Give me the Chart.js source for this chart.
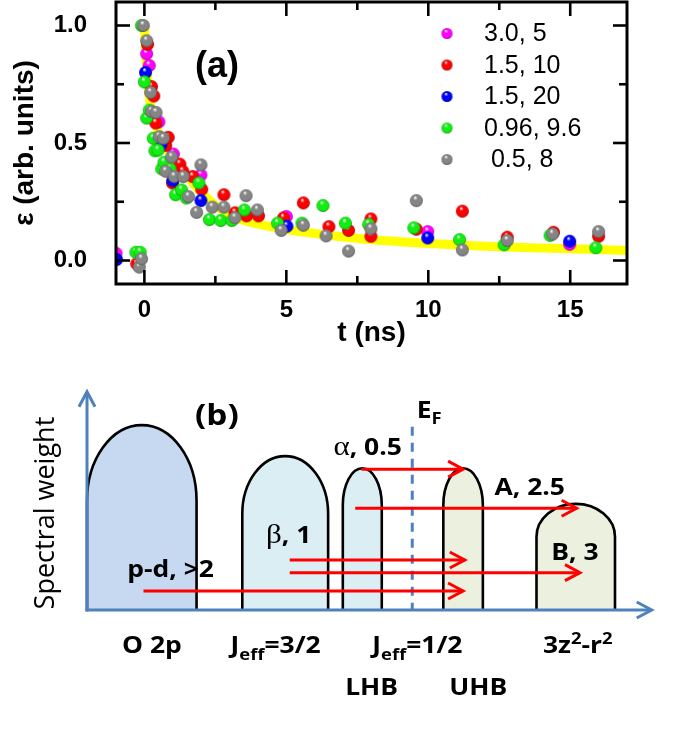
<!DOCTYPE html>
<html>
<head>
<meta charset="utf-8">
<script src="https://cdn.jsdelivr.net/npm/chart.js@4.4.0/dist/chart.umd.min.js"></script>
<style>
  html, body { margin: 0; padding: 0; background: #fff; }
  #wrap { position: relative; width: 685px; height: 735px; }
  #chartA { position: absolute; left: 0; top: 0; }
  #chartB { position: absolute; left: 0; top: 355px; }
</style>
</head>
<body>
<div id="wrap">
  <canvas id="chartA" width="685" height="355"></canvas>
  <canvas id="chartB" width="685" height="380"></canvas>
</div>
<script>
// ---- panel (a): data ----
const xTicks = [0, 5, 10, 15];
const xMinorTicks = [2.5, 7.5, 12.5];
const yTicks = [0, 0.5, 1.0];
const yMinorTicks = [0.25, 0.75];

const seriesLabels = ['3.0, 5', '1.5, 10', '1.5, 20', '0.96, 9.6', ' 0.5, 8'];

const magentaT = [-1.0, 0.08, 0.17, 0.51, 1.02, 1.99, 5.0, 9.98, 14.98];
const magentaE = [0.031, 0.88, 0.83, 0.59, 0.453, 0.364, 0.187, 0.123, 0.069];

const redT = [-0.27, 0.11, 0.25, 0.33, 0.4, 0.75, 0.84, 0.99, 1.25, 1.35, 1.7, 2.02, 2.8, 3.19, 3.6, 4.02, 4.9, 5.6, 6.5, 7.19, 7.98, 7.98, 9.58, 11.2, 12.78, 14.41, 16.0];
const redE = [-0.014, 0.92, 0.74, 0.70, 0.585, 0.49, 0.524, 0.33, 0.41, 0.38, 0.357, 0.303, 0.28, 0.203, 0.19, 0.19, 0.181, 0.245, 0.144, 0.128, 0.177, 0.103, 0.133, 0.21, 0.099, 0.12, 0.103];

const blueT = [-0.98, 0.04, 0.58, 1.0, 1.99, 5.02, 9.98, 14.98];
const blueE = [0.004, 0.80, 0.493, 0.34, 0.255, 0.146, 0.096, 0.082];

const greenT = [-0.3, -0.15, -0.1, 0, 0.08, 0.17, 0.31, 0.37, 0.48, 0.61, 0.69, 0.9, 1.1, 1.31, 1.48, 1.92, 2.29, 2.69, 3.08, 3.52, 4.69, 5.55, 6.29, 7.08, 7.9, 9.49, 11.1, 12.67, 14.29, 15.9];
const greenE = [0.035, 0.035, 1.0, 0.76, 0.606, 0.64, 0.52, 0.467, 0.47, 0.39, 0.418, 0.39, 0.28, 0.30, 0.266, 0.33, 0.174, 0.17, 0.17, 0.215, 0.159, 0.159, 0.234, 0.159, 0.153, 0.139, 0.089, 0.067, 0.107, 0.054];

const grayT = [-0.18, -0.1, -0.04, 0.08, 0.22, 0.25, 0.41, 0.52, 0.67, 0.75, 0.96, 1.05, 1.37, 1.55, 1.84, 1.99, 2.39, 2.8, 3.19, 3.58, 3.98, 4.82, 5.6, 6.4, 7.19, 7.98, 9.58, 11.2, 12.78, 14.38, 16.0];
const grayE = [-0.028, 0.007, 1.0, 0.935, 0.715, 0.635, 0.63, 0.527, 0.52, 0.38, 0.44, 0.357, 0.357, 0.272, 0.205, 0.407, 0.227, 0.227, 0.182, 0.276, 0.215, 0.128, 0.15, 0.105, 0.04, 0.135, 0.255, 0.045, 0.085, 0.113, 0.123];

// yellow fit curve
const fitT = [0, 0.03, 0.08, 0.15, 0.25, 0.4, 0.6, 0.8, 1.0, 1.3, 1.6, 2.0, 2.5, 3.0, 3.5, 4.0, 5.0, 6.0, 7.0, 8.0, 9.0, 10.0, 12.0, 14.0, 17.0];
const fitE = [1.0, 0.93, 0.82, 0.72, 0.64, 0.575, 0.52, 0.475, 0.44, 0.39, 0.345, 0.29, 0.235, 0.195, 0.17, 0.155, 0.132, 0.115, 0.10, 0.088, 0.08, 0.072, 0.061, 0.053, 0.043];

// ---- panel (b): schematic band picture (energy units, spectral weight 0..1) ----
const bandLeft = [0, 2.75, 4.53, 6.31, 7.96];
const bandRight = [1.94, 4.27, 5.22, 7.01, 9.35];
const bandTop = [0.847, 0.705, 0.649, 0.649, 0.486];
const bandShoulder = [0.50, 0.44, 0.48, 0.48, 0.336];
const fermiLevel = 5.76;
const fermiTop = 0.84;

const transFrom = [4.86, 4.75, 3.59, 3.59, 1.0];
const transTo = [6.66, 8.67, 6.69, 8.73, 6.66];
const transLevel = [0.645, 0.466, 0.229, 0.171, 0.087];

// styles
const FONT_A = '"Liberation Sans", Arial, sans-serif';
const seriesColors = ['#ff00ff', '#ff0000', '#0000ff', '#11ee11', '#858585'];
const bandColors = ['#c6d9f1', '#dbeef4', '#dbeef4', '#ebf1de', '#ebf1de'];
const AXIS_BLUE = '#4f81bd';

function darken(hex, f) {
  const n = parseInt(hex.slice(1), 16);
  const r = Math.round(((n >> 16) & 255) * f), g = Math.round(((n >> 8) & 255) * f), b = Math.round((n & 255) * f);
  return `rgb(${r},${g},${b})`;
}

// shaded ball used as point style
function makeBall(color, r) {
  const c = document.createElement('canvas');
  const s = Math.ceil(r * 2 + 2);
  c.width = s; c.height = s;
  const g = c.getContext('2d');
  const cx = s / 2, cy = s / 2;
  const grad = g.createRadialGradient(cx - r * 0.2, cy - r * 0.5, r * 0.05, cx, cy, r);
  grad.addColorStop(0, '#ffffff');
  grad.addColorStop(0.3, color);
  grad.addColorStop(0.8, color);
  grad.addColorStop(1, darken(color, 0.65));
  g.fillStyle = grad;
  g.beginPath();
  g.arc(cx, cy, r, 0, Math.PI * 2);
  g.fill();
  return c;
}

const seriesT = [magentaT, redT, blueT, greenT, grayT];
const seriesE = [magentaE, redE, blueE, greenE, grayE];
const pointBalls = seriesColors.map(c => makeBall(c, 6.5));
const legendBalls = seriesColors.map(c => makeBall(c, 5.5));

const datasetsA = seriesLabels.map((label, i) => ({
  type: 'scatter',
  label: label,
  data: seriesT[i].map((t, k) => ({ x: t, y: seriesE[i][k] })),
  pointStyle: pointBalls[i],
  pointRadius: 6.5,
  order: 5 - i
}));
datasetsA.push({
  type: 'line',
  label: 'fit',
  data: fitT.map((t, k) => ({ x: t, y: fitE[k] })),
  borderColor: '#ffff00',
  borderWidth: 9,
  borderCapStyle: 'round',
  pointRadius: 0,
  cubicInterpolationMode: 'monotone',
  order: 10
});

function line(ctx, x1, y1, x2, y2) {
  ctx.beginPath();
  ctx.moveTo(x1, y1);
  ctx.lineTo(x2, y2);
  ctx.stroke();
}

// frame with inward ticks, "(a)" label and legend
const panelA = {
  id: 'panelA',
  afterDatasetsDraw(chart) {
    const { ctx, chartArea: a, scales: { x, y } } = chart;
    ctx.save();
    ctx.strokeStyle = '#000';
    ctx.lineWidth = 3;
    ctx.strokeRect(a.left, a.top, a.right - a.left, a.bottom - a.top);
    ctx.lineWidth = 2.6;
    const tx = (v, len) => {
      const p = x.getPixelForValue(v);
      line(ctx, p, a.bottom, p, a.bottom - len);
      line(ctx, p, a.top, p, a.top + len);
    };
    const ty = (v, len) => {
      const p = y.getPixelForValue(v);
      line(ctx, a.left, p, a.left + len, p);
      line(ctx, a.right, p, a.right - len, p);
    };
    xTicks.forEach(v => tx(v, 14));
    xMinorTicks.forEach(v => tx(v, 8));
    yTicks.forEach(v => ty(v, 14));
    yMinorTicks.forEach(v => ty(v, 8));

    ctx.fillStyle = '#000';
    ctx.font = 'bold 36px ' + FONT_A;
    ctx.textAlign = 'center';
    ctx.textBaseline = 'middle';
    ctx.fillText('(a)', x.getPixelForValue(2.56), y.getPixelForValue(0.824));

    // legend
    ctx.font = '25px ' + FONT_A;
    ctx.textAlign = 'left';
    seriesLabels.forEach((lab, i) => {
      const ry = a.top + 31.5 + i * 31.5;
      const b = legendBalls[i];
      ctx.drawImage(b, a.left + 331 - b.width / 2, ry - b.height / 2);
      ctx.fillText(lab, a.left + 368, ry + 1);
    });
    ctx.restore();
  }
};

new Chart(document.getElementById('chartA'), {
  type: 'scatter',
  data: { datasets: datasetsA },
  options: {
    responsive: false,
    animation: false,
    layout: { autoPadding: false, padding: { top: 2, right: 58, left: 0, bottom: 0 } },
    plugins: { legend: { display: false }, tooltip: { enabled: false } },
    scales: {
      x: {
        type: 'linear', min: -1, max: 17,
        grid: { display: false, drawTicks: false },
        border: { display: false },
        afterBuildTicks: s => { s.ticks = xTicks.map(v => ({ value: v })); },
        afterFit: s => { s.height = 71; s.paddingLeft = 0; s.paddingRight = 0; },
        ticks: {
          autoSkip: false, maxRotation: 0, padding: 12, color: '#000',
          font: { family: FONT_A, size: 24, weight: 'bold' },
          callback: v => String(v)
        },
        title: {
          display: true, text: 't (ns)', color: '#000',
          font: { family: FONT_A, size: 28, weight: 'bold' },
          padding: { top: 0, bottom: 5 }
        }
      },
      y: {
        type: 'linear', min: -0.1, max: 1.1,
        grid: { display: false, drawTicks: false },
        border: { display: false },
        afterBuildTicks: s => { s.ticks = yTicks.map(v => ({ value: v })); },
        afterFit: s => { s.width = 116; s.paddingTop = 0; s.paddingBottom = 0; },
        ticks: {
          autoSkip: false, padding: 29, color: '#000',
          font: { family: FONT_A, size: 24, weight: 'bold' },
          callback: v => v.toFixed(1)
        },
        title: {
          display: true, text: 'ε (arb. units)', color: '#000',
          font: { family: FONT_A, size: 28, weight: 'bold' },
          padding: { top: 8, bottom: 0 }
        }
      }
    }
  },
  plugins: [panelA]
});

// ---- panel (b) ----
const FB = 'bold 23px "Open Sans"';
const FSUB = 'bold 16px "Open Sans"';
const FGREEK = '27px "Liberation Serif"';
const HSCALE = 1.15;

const annotations = [
  { parts: [['(b)', 'bold 29px "Open Sans"']], x: 2.30, y: 0.847 },
  { parts: [['E', FB], ['F', FSUB, 6]], x: 5.84, y: 0.878, align: 'left' },
  { parts: [['α', FGREEK], [', 0.5', FB]], x: 4.97, y: 0.71 },
  { parts: [['A, 2.5', FB]], x: 7.84, y: 0.527 },
  { parts: [['β', FGREEK], [', 1', FB]], x: 3.57, y: 0.305 },
  { parts: [['B, 3', FB]], x: 8.64, y: 0.229 },
  { parts: [['p-d, >2', FB]], x: 1.48, y: 0.153 },
  { parts: [['O 2p', FB]], x: 1.15, y: -0.197 },
  { parts: [['J', FB], ['eff', FSUB, 7], ['=3/2', FB]], x: 3.34, y: -0.197 },
  { parts: [['J', FB], ['eff', FSUB, 7], ['=1/2', FB]], x: 5.85, y: -0.197 },
  { parts: [['3z', FB], ['2', FSUB, -9], ['-r', FB], ['2', FSUB, -9]], x: 8.69, y: -0.197 },
  { parts: [['LHB', FB]], x: 5.04, y: -0.389 },
  { parts: [['UHB', FB]], x: 6.93, y: -0.389 }
];

function drawRich(ctx, parts, px, py, align) {
  ctx.save();
  let w = 0;
  parts.forEach(p => { ctx.font = p[1]; w += ctx.measureText(p[0]).width; });
  ctx.translate(px, py);
  ctx.scale(HSCALE, 1);
  let cx = align === 'left' ? 0 : -w / 2;
  ctx.textAlign = 'left';
  ctx.textBaseline = 'alphabetic';
  parts.forEach(p => {
    ctx.font = p[1];
    ctx.fillText(p[0], cx, p[2] || 0);
    cx += ctx.measureText(p[0]).width;
  });
  ctx.restore();
}

function arrowHead(ctx, x, y, dx, dy, len, half) {
  ctx.beginPath();
  ctx.moveTo(x - dx * len - dy * half, y - dy * len + dx * half);
  ctx.lineTo(x, y);
  ctx.lineTo(x - dx * len + dy * half, y - dy * len - dx * half);
  ctx.stroke();
}

const panelB = {
  id: 'panelB',
  beforeDatasetsDraw(chart) {
    const { ctx, scales: { x, y } } = chart;
    const y0 = y.getPixelForValue(0);
    const x0 = x.getPixelForValue(0);
    ctx.save();
    // bands
    bandLeft.forEach((l, i) => {
      const xl = x.getPixelForValue(l), xr = x.getPixelForValue(bandRight[i]);
      const ys = y.getPixelForValue(bandShoulder[i]), yt = y.getPixelForValue(bandTop[i]);
      ctx.beginPath();
      ctx.moveTo(xl, y0);
      ctx.lineTo(xl, ys);
      ctx.ellipse((xl + xr) / 2, ys, (xr - xl) / 2, ys - yt, 0, Math.PI, 2 * Math.PI);
      ctx.lineTo(xr, y0);
      ctx.fillStyle = bandColors[i];
      ctx.fill();
      ctx.strokeStyle = '#000';
      ctx.lineWidth = 2.6;
      ctx.stroke();
    });
    // Fermi level
    ctx.strokeStyle = AXIS_BLUE;
    ctx.lineWidth = 3;
    ctx.setLineDash([9, 7]);
    const xf = x.getPixelForValue(fermiLevel);
    line(ctx, xf, y.getPixelForValue(fermiTop), xf, y0);
    ctx.setLineDash([]);
    // axes with arrows
    ctx.lineWidth = 3;
    const yTop = y.getPixelForValue(1), xEnd = x.getPixelForValue(10);
    line(ctx, x0, y0 + 1.5, x0, yTop + 1);
    line(ctx, x0 - 1.5, y0, xEnd - 1, y0);
    arrowHead(ctx, x0, yTop, 0, -1, 15, 8);
    arrowHead(ctx, xEnd, y0, 1, 0, 15, 8);
    ctx.restore();
  },
  afterDatasetsDraw(chart) {
    const { ctx, scales: { x, y } } = chart;
    ctx.save();
    ctx.strokeStyle = '#ff0000';
    ctx.lineWidth = 3;
    chart.data.datasets.forEach((ds, i) => {
      const pt = chart.getDatasetMeta(i).data[1];
      arrowHead(ctx, pt.x, pt.y, 1, 0, 15, 8);
    });
    ctx.fillStyle = '#000';
    annotations.forEach(an => {
      drawRich(ctx, an.parts, x.getPixelForValue(an.x), y.getPixelForValue(an.y), an.align);
    });
    // vertical axis label
    ctx.save();
    ctx.translate(x.getPixelForValue(-0.715), y.getPixelForValue(0.444));
    ctx.rotate(-Math.PI / 2);
    ctx.font = '27px "Open Sans"';
    ctx.textAlign = 'center';
    ctx.textBaseline = 'middle';
    ctx.fillText('Spectral weight', 0, 0);
    ctx.restore();
    ctx.restore();
  }
};

new Chart(document.getElementById('chartB'), {
  type: 'scatter',
  data: {
    datasets: transFrom.map((f, i) => ({
      label: 'transition ' + i,
      data: [{ x: f, y: transLevel[i] }, { x: transTo[i], y: transLevel[i] }],
      showLine: true,
      borderColor: '#ff0000',
      borderWidth: 3,
      pointRadius: 0,
      clip: false
    }))
  },
  options: {
    responsive: false,
    animation: false,
    layout: { autoPadding: false, padding: { left: 87, right: 33.3, top: 36.7, bottom: 125 } },
    plugins: { legend: { display: false }, tooltip: { enabled: false } },
    scales: {
      x: { type: 'linear', min: 0, max: 10, display: false },
      y: { type: 'linear', min: 0, max: 1, display: false }
    }
  },
  plugins: [panelB]
});
</script>
</body>
</html>
